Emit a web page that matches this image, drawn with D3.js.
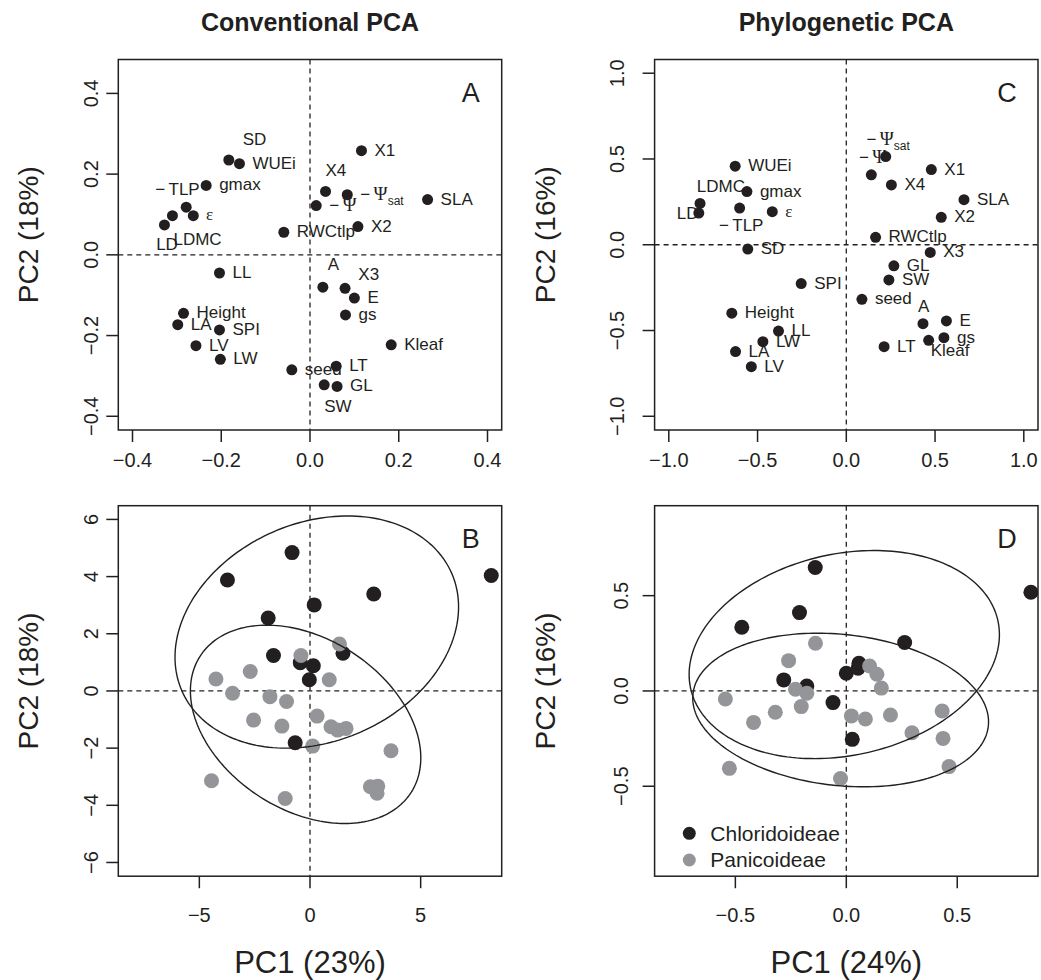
<!DOCTYPE html>
<html>
<head>
<meta charset="utf-8">
<script src="https://cdn.jsdelivr.net/npm/d3@7"></script>
<style>
body { margin: 0; background: #fff; }
svg { display: block; font-family: "Liberation Sans", Arial, sans-serif; }
</style>
</head>
<body>
<svg width="1041" height="980"></svg>
<script>
// trait loadings
var traitNames = ["SD", "WUEi", "gmax", "TLP", "eps", "LDMC", "LD", "RWCtlp", "Psi", "X4", "Psisat", "X1", "X2", "SLA",
                  "LL", "Height", "LA", "SPI", "LV", "LW", "seed", "LT", "GL", "SW", "A", "X3", "E", "gs", "Kleaf"];
var convPC1 = [-0.183, -0.159, -0.234, -0.279, -0.263, -0.310, -0.328, -0.059, 0.014, 0.035, 0.084, 0.116, 0.108, 0.265,
               -0.204, -0.285, -0.298, -0.204, -0.257, -0.202, -0.041, 0.059, 0.061, 0.032, 0.029, 0.079, 0.100, 0.080, 0.183];
var convPC2 = [0.235, 0.226, 0.172, 0.118, 0.097, 0.097, 0.074, 0.056, 0.122, 0.157, 0.149, 0.258, 0.070, 0.137,
               -0.045, -0.145, -0.173, -0.186, -0.225, -0.259, -0.285, -0.276, -0.326, -0.322, -0.080, -0.083, -0.107, -0.149, -0.223];
var phyloPC1 = [-0.555, -0.626, -0.560, -0.601, -0.417, -0.824, -0.831, 0.165, 0.141, 0.254, 0.222, 0.479, 0.535, 0.663,
                -0.382, -0.645, -0.624, -0.254, -0.535, -0.470, 0.088, 0.213, 0.268, 0.240, 0.432, 0.473, 0.564, 0.550, 0.464];
var phyloPC2 = [-0.025, 0.458, 0.310, 0.214, 0.193, 0.241, 0.185, 0.043, 0.408, 0.349, 0.514, 0.438, 0.160, 0.263,
                -0.503, -0.399, -0.623, -0.226, -0.711, -0.565, -0.318, -0.594, -0.123, -0.205, -0.460, -0.045, -0.444, -0.542, -0.557];

// species scores
var chlorConvPC1 = [-0.81, -3.73, 0.19, 2.88, -1.89, 8.19, -1.65, -0.44, 0.15, 1.49, -0.03, -0.67];
var chlorConvPC2 = [4.84, 3.88, 3.01, 3.39, 2.55, 4.04, 1.24, 0.99, 0.88, 1.32, 0.39, -1.81];
var paniConvPC1 = [-0.41, 1.33, -2.70, -4.25, 0.87, -3.50, -1.81, -1.06, -2.55, -1.27, 0.32, 0.95, 1.25, 1.63, 0.12, 3.66, -4.45, -1.12, 2.73, 3.06, 3.03];
var paniConvPC2 = [1.24, 1.64, 0.68, 0.42, 0.39, -0.08, -0.20, -0.37, -1.02, -1.23, -0.88, -1.25, -1.37, -1.31, -1.93, -2.09, -3.14, -3.76, -3.35, -3.33, -3.58];
var chlorPhyloPC1 = [-0.140, -0.211, -0.471, 0.263, 0.832, 0.000, 0.057, 0.053, -0.282, -0.178, -0.060, 0.027];
var chlorPhyloPC2 = [0.648, 0.411, 0.334, 0.254, 0.518, 0.093, 0.145, 0.119, 0.058, 0.026, -0.061, -0.254];
var paniPhyloPC1 = [-0.139, -0.260, 0.105, 0.138, 0.158, -0.229, -0.178, -0.545, -0.418, -0.320, -0.203, 0.023, 0.086, 0.199, 0.296, 0.432, 0.436, 0.463, -0.527, -0.026];
var paniPhyloPC2 = [0.250, 0.159, 0.131, 0.088, 0.015, 0.009, -0.012, -0.042, -0.165, -0.112, -0.082, -0.131, -0.147, -0.126, -0.219, -0.105, -0.249, -0.397, -0.406, -0.459];

var groupNames = ["Chloridoideae", "Panicoideae"];
var colTitles = ["Conventional PCA", "Phylogenetic PCA"];
var xTitles = ["PC1 (23%)", "PC1 (24%)"];
var yTitles = ["PC2 (18%)", "PC2 (16%)"];

// label offsets in px from each point (text start, vertical centre)
var nudgeA = {SD: [14, -21], TLP: [-31, -18], eps: [12.7, -2], LDMC: [1, 23], LD: [-8.3, 19], X4: [0, -21],
              SW: [0, 21.4], A: [5, -22.7], X3: [13.3, -14.4]};
var nudgeC = {LDMC: [-3.3, -17.7], LD: [-22, 0], TLP: [-20.7, 17], Psisat: [-19.3, -17.7], Psi: [-12.4, -17.6],
              A: [-5, -17.7], Kleaf: [2, 9.7]};

var ink = "#231f20";
var grey = "#939598";
var ellipseLevel = Math.sqrt(4.605); // chi-square, 2 df, 90%

var svg = d3.select("svg");
var boxW = 383.4, boxH = 370.5;

function extend(lim){
    var pad = (lim[1] - lim[0]) * 0.04;
    return [lim[0] - pad, lim[1] + pad];
}

function fmt(v, digits){
    var s = Math.abs(v).toFixed(digits);
    return v < 0 ? "\u2212" + s : s;
}

function drawFrame(p){
    var g = svg.append("g");
    var x = d3.scaleLinear().domain(extend(p.xlim)).range([p.left, p.left + boxW]);
    var y = d3.scaleLinear().domain(extend(p.ylim)).range([p.top + boxH, p.top]);
    var clipId = "clip" + p.letter;
    svg.append("clipPath").attr("id", clipId).append("rect")
        .attr("x", p.left).attr("y", p.top).attr("width", boxW).attr("height", boxH);

    var inner = g.append("g").attr("clip-path", "url(#" + clipId + ")");
    inner.append("line")
        .attr("x1", x(0)).attr("x2", x(0)).attr("y1", p.top).attr("y2", p.top + boxH)
        .attr("stroke", ink).attr("stroke-width", 1.3).attr("stroke-dasharray", "5,4");
    inner.append("line")
        .attr("x1", p.left).attr("x2", p.left + boxW).attr("y1", y(0)).attr("y2", y(0))
        .attr("stroke", ink).attr("stroke-width", 1.3).attr("stroke-dasharray", "5,4");

    g.append("rect")
        .attr("x", p.left).attr("y", p.top).attr("width", boxW).attr("height", boxH)
        .attr("fill", "none").attr("stroke", ink).attr("stroke-width", 1.5);

    var xa = g.selectAll(".xt").data(p.xTicks).enter().append("g").attr("class", "xt");
    xa.append("line")
        .attr("x1", function(d){ return x(d); }).attr("x2", function(d){ return x(d); })
        .attr("y1", p.top + boxH).attr("y2", p.top + boxH + 12)
        .attr("stroke", ink).attr("stroke-width", 1.5);
    xa.append("text")
        .attr("x", function(d){ return x(d); })
        .attr("y", p.top + boxH + p.xLabOff)
        .attr("dy", "0.35em")
        .attr("text-anchor", "middle")
        .attr("font-size", 20).attr("fill", ink)
        .text(function(d){ return fmt(d, p.digits); });

    var ya = g.selectAll(".yt").data(p.yTicks).enter().append("g").attr("class", "yt");
    ya.append("line")
        .attr("x1", p.left - 12).attr("x2", p.left)
        .attr("y1", function(d){ return y(d); }).attr("y2", function(d){ return y(d); })
        .attr("stroke", ink).attr("stroke-width", 1.5);
    ya.append("text")
        .attr("transform", function(d){ return "translate(" + (p.left - p.yLabOff) + "," + y(d) + ") rotate(-90)"; })
        .attr("dy", "0.35em")
        .attr("text-anchor", "middle")
        .attr("font-size", 20).attr("fill", ink)
        .text(function(d){ return fmt(d, p.digits); });

    g.append("text")
        .attr("x", p.left + boxW - 31).attr("y", p.top + 33)
        .attr("dy", "0.35em").attr("text-anchor", "middle")
        .attr("font-size", 27).attr("fill", ink)
        .text(p.letter);

    return {x: x, y: y, g: inner, top: g};
}

function writeLabel(t, name){
    var serif = "'Liberation Serif', 'DejaVu Serif', serif";
    if (name == "TLP"){
        t.append("tspan").text("\u2212\u2009TLP");
    } else if (name == "eps"){
        t.append("tspan").attr("font-family", serif).text("\u03b5");
    } else if (name == "Psi" || name == "Psisat"){
        t.append("tspan").text("\u2212\u2009");
        t.append("tspan").attr("font-family", serif).attr("font-size", 19).text("\u03a8");
        if (name == "Psisat"){
            t.append("tspan").attr("font-size", 12).attr("dy", 5).text("sat");
        }
    } else {
        t.append("tspan").text(name);
    }
}

function drawLoadings(fr, px, py, nudge){
    var pts = traitNames.map(function(n, i){ return {name: n, x: px[i], y: py[i]}; });
    fr.g.selectAll(".pt").data(pts).enter().append("circle")
        .attr("cx", function(d){ return fr.x(d.x); })
        .attr("cy", function(d){ return fr.y(d.y); })
        .attr("r", 5.5).attr("fill", ink);
    pts.forEach(function(d){
        var off = nudge[d.name] || [13, -1];
        var t = fr.top.append("text")
            .attr("x", fr.x(d.x) + off[0])
            .attr("y", fr.y(d.y) + off[1] + 6)
            .attr("font-size", 17).attr("fill", ink);
        writeLabel(t, d.name);
    });
}

function ellipsePoints(xs, ys){
    var n = xs.length;
    var mx = d3.mean(xs), my = d3.mean(ys);
    var a = 0, b = 0, d = 0;
    for (let i = 0; i < n; i++){
        a += (xs[i] - mx) * (xs[i] - mx);
        b += (xs[i] - mx) * (ys[i] - my);
        d += (ys[i] - my) * (ys[i] - my);
    }
    a /= n - 1; b /= n - 1; d /= n - 1;
    var l11 = Math.sqrt(a), l21 = b / l11, l22 = Math.sqrt(d - l21 * l21);
    var out = [];
    for (let k = 0; k < 200; k++){
        var t = 2 * Math.PI * k / 200;
        var u = ellipseLevel * Math.cos(t), v = ellipseLevel * Math.sin(t);
        out.push([mx + l11 * u, my + l21 * u + l22 * v]);
    }
    return out;
}

function drawScores(fr, groups){
    var line = d3.line()
        .x(function(d){ return fr.x(d[0]); })
        .y(function(d){ return fr.y(d[1]); })
        .curve(d3.curveLinearClosed);
    groups.forEach(function(gr){
        var pts = gr.xs.map(function(v, i){ return [v, gr.ys[i]]; });
        fr.g.append("g").selectAll("circle").data(pts).enter().append("circle")
            .attr("cx", function(d){ return fr.x(d[0]); })
            .attr("cy", function(d){ return fr.y(d[1]); })
            .attr("r", 7.5).attr("fill", gr.color);
    });
    groups.forEach(function(gr){
        fr.g.append("path")
            .attr("d", line(ellipsePoints(gr.xs, gr.ys)))
            .attr("fill", "none").attr("stroke", ink).attr("stroke-width", 1.4);
    });
}

var frA = drawFrame({letter: "A", left: 118.3, top: 59.5, xlim: [-0.4, 0.4], ylim: [-0.4, 0.45],
    xTicks: [-0.4, -0.2, 0, 0.2, 0.4], yTicks: [-0.4, -0.2, 0, 0.2, 0.4], digits: 1, xLabOff: 30, yLabOff: 27});
var frC = drawFrame({letter: "C", left: 654.6, top: 59.5, xlim: [-1, 1], ylim: [-1, 1],
    xTicks: [-1, -0.5, 0, 0.5, 1], yTicks: [-1, -0.5, 0, 0.5, 1], digits: 1, xLabOff: 30, yLabOff: 38});
var frB = drawFrame({letter: "B", left: 118.3, top: 505.7, xlim: [-8.02, 8.02], ylim: [-6, 6],
    xTicks: [-5, 0, 5], yTicks: [-6, -4, -2, 0, 2, 4, 6], digits: 0, xLabOff: 39, yLabOff: 27});
var frD = drawFrame({letter: "D", left: 654.6, top: 505.7, xlim: [-0.8, 0.8], ylim: [-0.9, 0.9],
    xTicks: [-0.5, 0, 0.5], yTicks: [-0.5, 0, 0.5], digits: 1, xLabOff: 39, yLabOff: 34});

drawLoadings(frA, convPC1, convPC2, nudgeA);
drawLoadings(frC, phyloPC1, phyloPC2, nudgeC);
drawScores(frB, [{xs: chlorConvPC1, ys: chlorConvPC2, color: ink}, {xs: paniConvPC1, ys: paniConvPC2, color: grey}]);
drawScores(frD, [{xs: chlorPhyloPC1, ys: chlorPhyloPC2, color: ink}, {xs: paniPhyloPC1, ys: paniPhyloPC2, color: grey}]);

// legend in D
var legColors = [ink, grey];
var leg = svg.append("g").selectAll("g").data(groupNames).enter().append("g")
    .attr("transform", function(d, i){ return "translate(" + (654.6 + 34.7) + "," + (833.3 + i * 26.7) + ")"; });
leg.append("circle").attr("r", 6.5).attr("fill", function(d, i){ return legColors[i]; });
leg.append("text").attr("x", 21).attr("dy", "0.35em").attr("font-size", 21).attr("fill", ink)
    .text(function(d){ return d; });

// titles
var colCentres = [118.3 + boxW / 2, 654.6 + boxW / 2];
svg.selectAll(".ct").data(colTitles).enter().append("text")
    .attr("x", function(d, i){ return colCentres[i]; }).attr("y", 31)
    .attr("text-anchor", "middle").attr("font-size", 25).attr("font-weight", "bold").attr("fill", ink)
    .text(function(d){ return d; });
svg.selectAll(".xtitle").data(xTitles).enter().append("text")
    .attr("x", function(d, i){ return colCentres[i]; }).attr("y", 973)
    .attr("text-anchor", "middle").attr("font-size", 31).attr("fill", ink)
    .text(function(d){ return d; });
var yTitleX = [28, 545];
var rowCentres = [59.5 + boxH / 2 - 10, 505.7 + boxH / 2 - 10];
[0, 1].forEach(function(col){
    rowCentres.forEach(function(cy){
        svg.append("text")
            .attr("transform", "translate(" + yTitleX[col] + "," + cy + ") rotate(-90)")
            .attr("dy", "0.35em").attr("text-anchor", "middle")
            .attr("font-size", 28).attr("fill", ink)
            .text(yTitles[col]);
    });
});
</script>
</body>
</html>
